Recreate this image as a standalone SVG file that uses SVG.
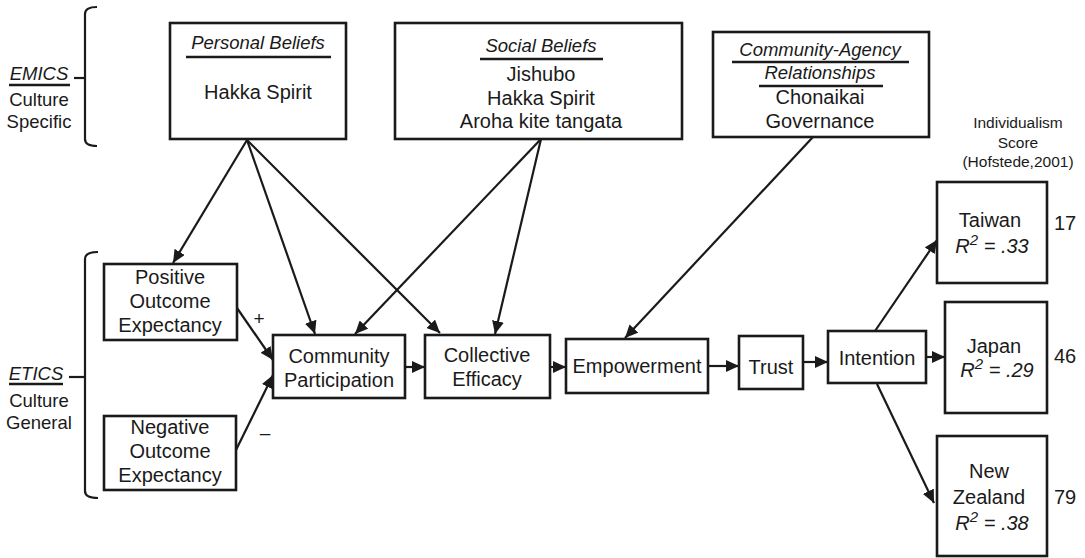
<svg xmlns="http://www.w3.org/2000/svg" width="1085" height="558" viewBox="0 0 1085 558">
  <style>
    text { font-family: "Liberation Sans", Arial, sans-serif; fill: #1a1a1a; text-anchor: middle; }
    .t { font-size: 20px; }
    .h { font-size: 18.5px; font-style: italic; }
    .side { font-size: 18.5px; }
    .small { font-size: 15.5px; }
    .sign { font-size: 19px; }
    .sup { font-size: 15px; }
    .box { fill: #fff; stroke: #1a1a1a; stroke-width: 2.6; }
    .rule { stroke: #1a1a1a; stroke-width: 2.4; fill: none; }
    .brk { stroke: #1a1a1a; stroke-width: 2.2; fill: none; }
    .edge { stroke: #1a1a1a; stroke-width: 2.2; fill: none; marker-end: url(#arr); }
  </style>
  <defs>
    <marker id="arr" markerUnits="userSpaceOnUse" markerWidth="14" markerHeight="12" refX="13" refY="6" orient="auto">
      <path d="M0,0 L13,6 L0,12 z" fill="#1a1a1a"/>
    </marker>
  </defs>
  <rect width="1085" height="558" fill="#fff"/>

  <!-- side labels and brackets -->
  <g id="emics">
    <path class="brk" d="M97,7 Q85,7 85,14 L85,139 Q85,146 97,146"/>
    <line class="brk" x1="74" y1="78" x2="85" y2="78"/>
    <text class="side" x="39" y="80" font-style="italic">EMICS</text>
    <line class="rule" x1="9" y1="85" x2="70" y2="85" stroke-width="2"/>
    <text class="side" x="39" y="106">Culture</text>
    <text class="side" x="39" y="128">Specific</text>
  </g>
  <g id="etics">
    <path class="brk" d="M98,252 Q85,252 85,259 L85,491 Q85,498 98,498"/>
    <line class="brk" x1="69" y1="377" x2="85" y2="377"/>
    <text class="side" x="36" y="380" font-style="italic">ETICS</text>
    <line class="rule" x1="9" y1="384" x2="63" y2="384" stroke-width="2"/>
    <text class="side" x="39" y="407">Culture</text>
    <text class="side" x="39" y="429">General</text>
  </g>

  <!-- connectors -->
  <g id="connectors">
    <line class="edge" x1="247" y1="140" x2="173" y2="263"/>
    <line class="edge" x1="247" y1="140" x2="315" y2="334"/>
    <line class="edge" x1="247" y1="140" x2="440" y2="333"/>
    <line class="edge" x1="541" y1="139" x2="355" y2="334"/>
    <line class="edge" x1="541" y1="139" x2="495" y2="334"/>
    <line class="edge" x1="813" y1="137" x2="625" y2="338"/>
    <line class="edge" x1="237" y1="308" x2="273" y2="360"/>
    <line class="edge" x1="236" y1="450" x2="273" y2="375"/>
    <line class="edge" x1="405" y1="367" x2="425" y2="367"/>
    <line class="edge" x1="550" y1="367" x2="566" y2="367"/>
    <line class="edge" x1="708" y1="366" x2="739" y2="366"/>
    <line class="edge" x1="803" y1="362" x2="828" y2="362"/>
    <line class="edge" x1="875" y1="331" x2="937" y2="240"/>
    <line class="edge" x1="926" y1="357" x2="945" y2="357"/>
    <line class="edge" x1="877" y1="384" x2="934" y2="503"/>
    <text class="sign" x="259" y="325">+</text>
    <text class="sign" x="265" y="439">–</text>
  </g>

  <!-- culture-specific nodes -->
  <g id="personal-beliefs">
    <rect class="box" x="170" y="23" width="176" height="116"/>
    <text class="h" x="258" y="49">Personal Beliefs</text>
    <line class="rule" x1="186" y1="57" x2="331" y2="57"/>
    <text class="t" x="258" y="99">Hakka Spirit</text>
  </g>
  <g id="social-beliefs">
    <rect class="box" x="395" y="23" width="287" height="116"/>
    <text class="h" x="541" y="52">Social Beliefs</text>
    <line class="rule" x1="480" y1="59" x2="603" y2="59"/>
    <text class="t" x="541" y="81">Jishubo</text>
    <text class="t" x="541" y="105">Hakka Spirit</text>
    <text class="t" x="541" y="128">Aroha kite tangata</text>
  </g>
  <g id="community-agency">
    <rect class="box" x="713" y="32" width="216" height="105"/>
    <text class="h" x="820" y="56">Community-Agency</text>
    <line class="rule" x1="732" y1="62" x2="909" y2="62"/>
    <text class="h" x="820" y="79">Relationships</text>
    <line class="rule" x1="759" y1="86" x2="883" y2="86"/>
    <text class="t" x="820" y="104">Chonaikai</text>
    <text class="t" x="820" y="128">Governance</text>
  </g>

  <!-- culture-general nodes -->
  <g id="positive-outcome">
    <rect class="box" x="104" y="264" width="133" height="76"/>
    <text class="t" x="170" y="284">Positive</text>
    <text class="t" x="170" y="308">Outcome</text>
    <text class="t" x="170" y="332">Expectancy</text>
  </g>
  <g id="negative-outcome">
    <rect class="box" x="104" y="416" width="132" height="74"/>
    <text class="t" x="170" y="434">Negative</text>
    <text class="t" x="170" y="458">Outcome</text>
    <text class="t" x="170" y="482">Expectancy</text>
  </g>
  <g id="community-participation">
    <rect class="box" x="273" y="335" width="132" height="63"/>
    <text class="t" x="339" y="363">Community</text>
    <text class="t" x="339" y="387">Participation</text>
  </g>
  <g id="collective-efficacy">
    <rect class="box" x="425" y="335" width="125" height="63"/>
    <text class="t" x="487" y="362">Collective</text>
    <text class="t" x="487" y="386">Efficacy</text>
  </g>
  <g id="empowerment">
    <rect class="box" x="566" y="339" width="142" height="54"/>
    <text class="t" x="637" y="373">Empowerment</text>
  </g>
  <g id="trust">
    <rect class="box" x="739" y="336" width="64" height="53"/>
    <text class="t" x="771" y="374">Trust</text>
  </g>
  <g id="intention">
    <rect class="box" x="828" y="331" width="98" height="52"/>
    <text class="t" x="877" y="365">Intention</text>
  </g>

  <!-- outcome by country -->
  <g id="score-heading">
    <text class="small" x="1018" y="128">Individualism</text>
    <text class="small" x="1018" y="148">Score</text>
    <text class="small" x="1018" y="167">(Hofstede,2001)</text>
  </g>
  <g id="taiwan">
    <rect class="box" x="937" y="182" width="110" height="101"/>
    <text class="t" x="990" y="227">Taiwan</text>
    <text class="t" x="992" y="253" font-style="italic">R<tspan class="sup" dy="-8">2</tspan><tspan dy="8"> = .33</tspan></text>
    <text class="t" x="1065" y="230">17</text>
  </g>
  <g id="japan">
    <rect class="box" x="945" y="302" width="102" height="111"/>
    <text class="t" x="994" y="353">Japan</text>
    <text class="t" x="997" y="377" font-style="italic">R<tspan class="sup" dy="-8">2</tspan><tspan dy="8"> = .29</tspan></text>
    <text class="t" x="1065" y="363">46</text>
  </g>
  <g id="new-zealand">
    <rect class="box" x="937" y="436" width="110" height="120"/>
    <text class="t" x="989" y="478">New</text>
    <text class="t" x="989" y="504">Zealand</text>
    <text class="t" x="992" y="530" font-style="italic">R<tspan class="sup" dy="-8">2</tspan><tspan dy="8"> = .38</tspan></text>
    <text class="t" x="1065" y="504">79</text>
  </g>
</svg>
